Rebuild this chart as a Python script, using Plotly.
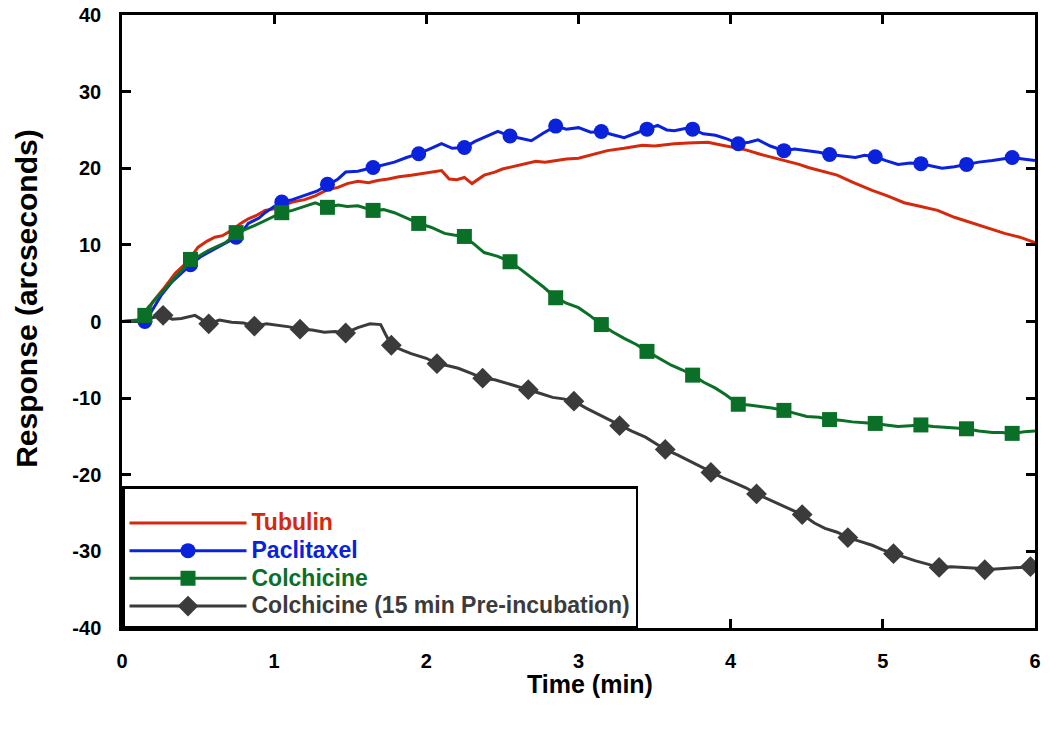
import plotly.graph_objects as go

# ---- data ----
tub_x = [0, 0.15, 0.2, 0.27, 0.35, 0.43, 0.5, 0.56, 0.61, 0.66, 0.72, 0.78, 0.83, 0.88, 0.94, 1.0, 1.05, 1.12, 1.2, 1.27,
         1.35, 1.42, 1.48, 1.55, 1.62, 1.68, 1.75, 1.82, 1.9, 1.97, 2.05, 2.1, 2.15, 2.2, 2.25, 2.3, 2.38, 2.45, 2.5, 2.56,
         2.65, 2.72, 2.78, 2.85, 2.92, 3.0, 3.1, 3.19, 3.3, 3.42, 3.5, 3.63, 3.72, 3.85, 3.92, 4.0, 4.1, 4.2, 4.3, 4.38,
         4.45, 4.51, 4.6, 4.7, 4.8, 4.93, 5.03, 5.14, 5.25, 5.36, 5.47, 5.58, 5.7, 5.8, 5.9, 6.0]
tub_y = [0, 0.2, 2.5, 4.2, 6.3, 7.8, 9.7, 10.5, 11.0, 11.2, 11.9, 12.8, 13.4, 13.8, 14.5, 14.7, 15.1, 15.6, 15.9, 16.4,
         17.2, 17.5, 18.0, 18.3, 18.1, 18.4, 18.6, 18.9, 19.1, 19.3, 19.5, 19.7, 18.6, 18.5, 18.8, 18.0, 19.1, 19.5, 19.9, 20.2,
         20.6, 20.9, 20.8, 21.0, 21.2, 21.3, 21.8, 22.3, 22.6, 23.0, 22.9, 23.2, 23.3, 23.4, 23.1, 22.8, 22.4, 21.8, 21.3, 20.8,
         20.5, 20.1, 19.6, 19.1, 18.2, 17.1, 16.4, 15.5, 15.0, 14.5, 13.6, 12.9, 12.2, 11.5, 11.0, 10.3]

pac_x = [0, 0.15, 0.2, 0.26, 0.33, 0.39, 0.45, 0.52, 0.61, 0.68, 0.75, 0.8, 0.83, 0.9, 0.94, 1.0, 1.05, 1.12, 1.2, 1.28,
         1.35, 1.42, 1.47, 1.55, 1.65, 1.72, 1.79, 1.87, 1.95, 2.02, 2.1, 2.17, 2.25, 2.32, 2.38, 2.47, 2.55, 2.62, 2.69, 2.77,
         2.85, 2.92, 3.0, 3.08, 3.15, 3.22, 3.3, 3.38, 3.45, 3.52, 3.58, 3.63, 3.7, 3.75, 3.82, 3.9, 3.98, 4.05, 4.12, 4.18,
         4.26, 4.35, 4.42, 4.5, 4.58, 4.65, 4.72, 4.82, 4.88, 4.95, 5.02, 5.1, 5.18, 5.25, 5.32, 5.39, 5.47, 5.55, 5.63, 5.72,
         5.78, 5.85, 5.92, 6.0]
pac_y = [0, 0, 1.5, 3.5, 5.2, 6.3, 7.4, 8.5, 9.5, 10.3, 11.0, 12.0, 12.8, 13.5, 14.2, 15.0, 15.6, 15.9, 16.5, 17.0,
         17.8, 18.6, 19.5, 19.6, 20.1, 20.5, 20.8, 21.4, 21.9, 22.5, 23.2, 22.6, 22.7, 23.5, 24.0, 24.8, 24.2, 23.9, 23.6, 24.6,
         25.5, 25.1, 25.3, 24.7, 24.8, 24.4, 24.0, 24.6, 25.1, 25.6, 25.0, 24.9, 25.2, 25.1, 24.5, 24.3, 23.8, 23.2, 23.4, 23.7,
         22.9, 22.3, 22.5, 22.3, 22.1, 21.8, 21.6, 21.4, 21.7, 21.5, 21.0, 20.5, 20.7, 20.6, 20.3, 20.0, 20.2, 20.5, 20.8, 21.0,
         21.2, 21.4, 21.2, 21.0]

col_x = [0, 0.15, 0.17, 0.26, 0.37, 0.46, 0.57, 0.68, 0.76, 0.87, 0.99, 1.05, 1.12, 1.18, 1.27, 1.35, 1.42, 1.48, 1.55, 1.65,
         1.72, 1.79, 1.87, 1.95, 2.03, 2.12, 2.18, 2.25, 2.32, 2.38, 2.47, 2.55, 2.62, 2.69, 2.77, 2.85, 2.92, 3.0, 3.08, 3.15,
         3.22, 3.3, 3.38, 3.45, 3.53, 3.61, 3.68, 3.75, 3.82, 3.9, 3.97, 4.05, 4.12, 4.2, 4.27, 4.35, 4.42, 4.5, 4.58, 4.65,
         4.72, 4.8, 4.88, 4.95, 5.02, 5.1, 5.18, 5.25, 5.33, 5.41, 5.48, 5.55, 5.63, 5.72, 5.78, 5.85, 5.93, 6.0]
col_y = [0, 0.3, 1.8, 3.8, 6.2, 8.0, 9.3, 10.3, 11.6, 12.5, 13.6, 14.2, 14.5, 14.9, 15.5, 14.9, 15.2, 15.0, 15.1, 14.5,
         14.6, 14.2, 13.5, 12.8, 12.3, 11.5, 11.3, 11.1, 10.0, 9.0, 8.5, 7.8, 6.8, 5.7, 4.5, 3.1, 2.4, 1.8, 0.7, -0.4,
         -1.3, -2.2, -3.0, -3.9, -4.8, -5.7, -6.3, -7.0, -7.9, -8.7, -9.6, -10.8, -10.9, -11.1, -11.3, -11.6, -12.0, -12.4, -12.5, -12.8,
         -12.9, -13.1, -13.2, -13.3, -13.5, -13.7, -13.6, -13.5, -13.7, -13.8, -13.9, -14.0, -14.3, -14.5, -14.5, -14.6, -14.4, -14.3]

pre_x = [0, 0.15, 0.2, 0.27, 0.33, 0.39, 0.48, 0.57, 0.64, 0.72, 0.8, 0.87, 0.95, 1.02, 1.1, 1.17, 1.25, 1.33, 1.4, 1.47,
         1.55, 1.63, 1.7, 1.73, 1.77, 1.85, 1.9, 2.0, 2.07, 2.15, 2.21, 2.3, 2.37, 2.45, 2.52, 2.6, 2.67, 2.75, 2.83, 2.9,
         2.97, 3.05, 3.15, 3.2, 3.27, 3.35, 3.44, 3.5, 3.57, 3.65, 3.72, 3.8, 3.87, 3.95, 4.03, 4.1, 4.17, 4.25, 4.34, 4.4,
         4.47, 4.55, 4.62, 4.7, 4.77, 4.85, 4.93, 5.0, 5.07, 5.15, 5.21, 5.3, 5.37, 5.45, 5.54, 5.62, 5.67, 5.75, 5.85, 5.92,
         5.97, 6.0]
pre_y = [0, 0, 0.5, 0.8, 0.3, 0.4, 0.8, -0.3, 0.2, -0.1, -0.2, -0.6, -0.3, -0.5, -0.7, -1.0, -1.1, -1.4, -1.3, -1.5,
         -0.8, -0.3, -0.4, -1.6, -3.1, -3.8, -4.2, -4.8, -5.5, -5.8, -6.1, -6.8, -7.4, -7.6, -8.0, -8.4, -8.9, -9.4, -9.9, -10.1,
         -10.4, -11.3, -12.3, -12.8, -13.6, -14.3, -15.1, -15.8, -16.7, -17.4, -18.1, -18.9, -19.7, -20.4, -21.1, -21.7, -22.5, -23.2, -24.0, -24.5,
         -25.2, -26.3, -27.0, -27.5, -28.2, -28.7, -29.2, -29.8, -30.3, -30.8, -31.2, -31.7, -32.1, -32.0, -32.1, -32.2, -32.4, -32.3, -32.1, -32.0,
         -32.0, -31.8]

# marker positions
mk_x = [0.15, 0.45, 0.75, 1.05, 1.35, 1.65, 1.95, 2.25, 2.55, 2.85, 3.15, 3.45, 3.75, 4.05, 4.35, 4.65, 4.95, 5.25, 5.55, 5.85]
pac_mk = [0, 7.4, 11.0, 15.6, 17.9, 20.1, 21.9, 22.7, 24.2, 25.5, 24.8, 25.1, 25.1, 23.2, 22.3, 21.8, 21.5, 20.6, 20.5, 21.4]
col_mk = [0.8, 8.1, 11.6, 14.2, 14.9, 14.5, 12.8, 11.1, 7.8, 3.1, -0.4, -3.9, -7.0, -10.8, -11.6, -12.8, -13.3, -13.5, -14.0, -14.6]
pre_mk_x = [0.27, 0.57, 0.87, 1.17, 1.47, 1.77, 2.07, 2.37, 2.67, 2.97, 3.27, 3.57, 3.87, 4.17, 4.47, 4.77, 5.07, 5.37, 5.67, 5.97]
pre_mk = [0.8, -0.3, -0.6, -1.0, -1.5, -3.1, -5.5, -7.4, -8.9, -10.4, -13.6, -16.7, -19.7, -22.5, -25.2, -28.2, -30.3, -32.1, -32.4, -32.0]

# ticks
x_ticks = [0, 1, 2, 3, 4, 5, 6]
x_ticklabels = ["0", "1", "2", "3", "4", "5", "6"]
y_ticks = [-40, -30, -20, -10, 0, 10, 20, 30, 40]
y_ticklabels = ["-40", "-30", "-20", "-10", "0", "10", "20", "30", "40"]

x_title = "Time (min)"
y_title = "Response (arcseconds)"

names = ["Tubulin", "Paclitaxel", "Colchicine", "Colchicine (15 min Pre-incubation)"]
colors = ["#d5280c", "#0b22dc", "#0b7027", "#3b3b3b"]
symbols = [None, "circle", "square", "diamond"]
msizes = [0, 15, 15, 16]

FONT = "Liberation Sans, Arial, sans-serif"

fig = go.Figure()

series = [
    (tub_x, tub_y, None, None),
    (pac_x, pac_y, mk_x, pac_mk),
    (pre_x, pre_y, pre_mk_x, pre_mk),
    (col_x, col_y, mk_x, col_mk),
]
idx_order = [0, 1, 3, 2]
for sidx, (lx, ly, mx, my) in zip(idx_order, series):
    c = colors[sidx]
    fig.add_trace(go.Scatter(x=lx, y=ly, mode="lines", line=dict(color=c, width=3),
                             showlegend=False, hoverinfo="skip"))
    if mx is not None:
        fig.add_trace(go.Scatter(x=mx, y=my, mode="markers",
                                 marker=dict(symbol=symbols[sidx], size=msizes[sidx], color=c,
                                             line=dict(width=0)),
                                 showlegend=False))

# legend entries
for i in range(4):
    mode = "lines" if symbols[i] is None else "lines+markers"
    fig.add_trace(go.Scatter(
        x=[None], y=[None], mode=mode,
        line=dict(color=colors[i], width=3),
        marker=dict(symbol=symbols[i] or "circle", size=msizes[i] if msizes[i] else 1, color=colors[i]),
        name=f'<span style="color:{colors[i]};font-size:23px"><b>{names[i]}</b></span>',
        legendrank=i + 1,
    ))

axis_common = dict(
    showline=True, linecolor="black", linewidth=2.5, mirror="ticks",
    ticks="inside", ticklen=9, tickwidth=2.5, tickcolor="black",
    showgrid=False, zeroline=False, automargin=False, ticklabeloverflow="allow",
    tickfont=dict(family=FONT, size=20, color="black", weight="bold"),
)

fig.update_layout(
    width=1050, height=734,
    margin=dict(l=122, r=15, t=15, b=106),
    paper_bgcolor="white", plot_bgcolor="white",
    xaxis=dict(range=[0, 6], tickvals=x_ticks, ticktext=x_ticklabels, ticklabelstandoff=13, **axis_common),
    yaxis=dict(range=[-40, 40], tickvals=y_ticks, ticktext=y_ticklabels, ticklabelstandoff=14, **axis_common),
    legend=dict(x=0, y=0, xanchor="left", yanchor="bottom", bgcolor="white",
                bordercolor="black", borderwidth=2.5, itemwidth=117, tracegroupgap=0,
                title=dict(text=" ", font=dict(family=FONT, size=12)),
                font=dict(family=FONT, size=19), traceorder="normal"),
    showlegend=True,
    annotations=[
        dict(text=f"<b>{x_title}</b>", xref="paper", yref="paper", x=0.5126, y=0,
             xanchor="center", yanchor="middle", yshift=-56, showarrow=False,
             font=dict(family=FONT, size=25, color="black")),
        dict(text=f"<b>{y_title}</b>", xref="paper", yref="paper", x=0, y=0.537,
             xanchor="center", yanchor="middle", xshift=-95, textangle=-90, showarrow=False,
             font=dict(family=FONT, size=30, color="black")),
    ],
)

# remove the default 8px page margin so the figure fills the 1050x734 window exactly
fig.write_html("out.html", config={"displayModeBar": False},
               post_script="document.body.style.margin='0px';")
